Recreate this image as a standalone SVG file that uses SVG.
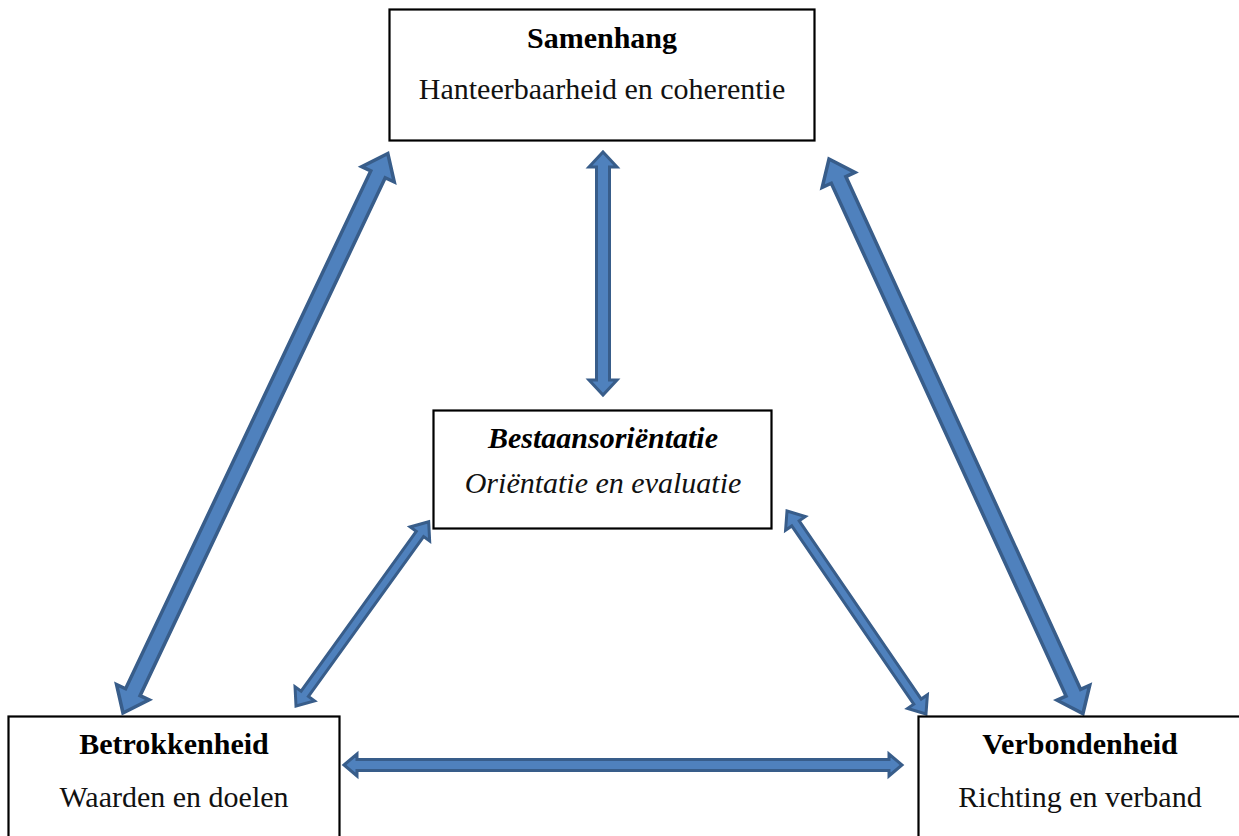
<svg xmlns="http://www.w3.org/2000/svg" width="1239" height="836" viewBox="0 0 1239 836">
  <style>
    .box { fill: #ffffff; stroke: #000000; stroke-width: 2.2; }
    .title { font-family: "Liberation Serif", "DejaVu Serif", serif; font-size: 30px; font-weight: bold; fill: #000000; text-anchor: middle; }
    .sub { font-family: "Liberation Serif", "DejaVu Serif", serif; font-size: 30px; fill: #111111; text-anchor: middle; }
    .arrow { fill: #4F81BD; stroke: #385D8A; stroke-linejoin: miter; }
  </style>
  <rect width="1239" height="836" fill="#ffffff"/>

  <!-- double-headed block arrows -->
  <g id="connectors">
    <!-- Betrokkenheid <-> Samenhang -->
    <path class="arrow" stroke-width="3.5" transform="translate(123,713) rotate(-64.67)"
          d="M0,0 L23,-18 L23,-8 L596,-8 L596,-18 L619,0 L596,18 L596,8 L23,8 L23,18 Z"/>
    <!-- Samenhang <-> Verbondenheid -->
    <path class="arrow" stroke-width="3.5" transform="translate(829,159) rotate(65.4)"
          d="M0,0 L23,-18 L23,-8 L587,-8 L587,-18 L610,0 L587,18 L587,8 L23,8 L23,18 Z"/>
    <!-- Samenhang <-> Bestaansorientatie -->
    <path class="arrow" stroke-width="3" transform="translate(603,152) rotate(90)"
          d="M0,0 L15,-14 L15,-6.5 L228,-6.5 L228,-14 L243,0 L228,14 L228,6.5 L15,6.5 L15,14 Z"/>
    <!-- Betrokkenheid <-> Verbondenheid -->
    <path class="arrow" stroke-width="3" stroke-linejoin="round" transform="translate(344,765)"
          d="M0,0 L13,-11 L13,-5.5 L545,-5.5 L545,-11 L558,0 L545,11 L545,5.5 L13,5.5 L13,11 Z"/>
    <!-- Betrokkenheid <-> Bestaansorientatie -->
    <path class="arrow" stroke-width="3" transform="translate(296,706) rotate(-54.23)"
          d="M0,0 L15,-12 L15,-4.5 L212,-4.5 L212,-12 L227,0 L212,12 L212,4.5 L15,4.5 L15,12 Z"/>
    <!-- Bestaansorientatie <-> Verbondenheid -->
    <path class="arrow" stroke-width="3" transform="translate(787,511) rotate(55.6)"
          d="M0,0 L15,-12 L15,-4.5 L231,-4.5 L231,-12 L246,0 L231,12 L231,4.5 L15,4.5 L15,12 Z"/>
  </g>

  <g id="samenhang">
    <rect class="box" x="389.5" y="9.5" width="425" height="131"/>
    <text class="title" x="602" y="48">Samenhang</text>
    <text class="sub" x="602" y="99">Hanteerbaarheid en coherentie</text>
  </g>

  <g id="bestaansorientatie">
    <rect class="box" x="433.5" y="410.5" width="338" height="118"/>
    <text class="title" x="603" y="448" font-style="italic">Bestaansoriëntatie</text>
    <text class="sub" x="603" y="493" font-style="italic">Oriëntatie en evaluatie</text>
  </g>

  <g id="betrokkenheid">
    <rect class="box" x="8.5" y="716.5" width="331" height="130"/>
    <text class="title" x="174" y="754">Betrokkenheid</text>
    <text class="sub" x="174" y="807">Waarden en doelen</text>
  </g>

  <g id="verbondenheid">
    <rect class="box" x="918.5" y="716.5" width="330" height="130"/>
    <text class="title" x="1080" y="754">Verbondenheid</text>
    <text class="sub" x="1080" y="807">Richting en verband</text>
  </g>
</svg>
